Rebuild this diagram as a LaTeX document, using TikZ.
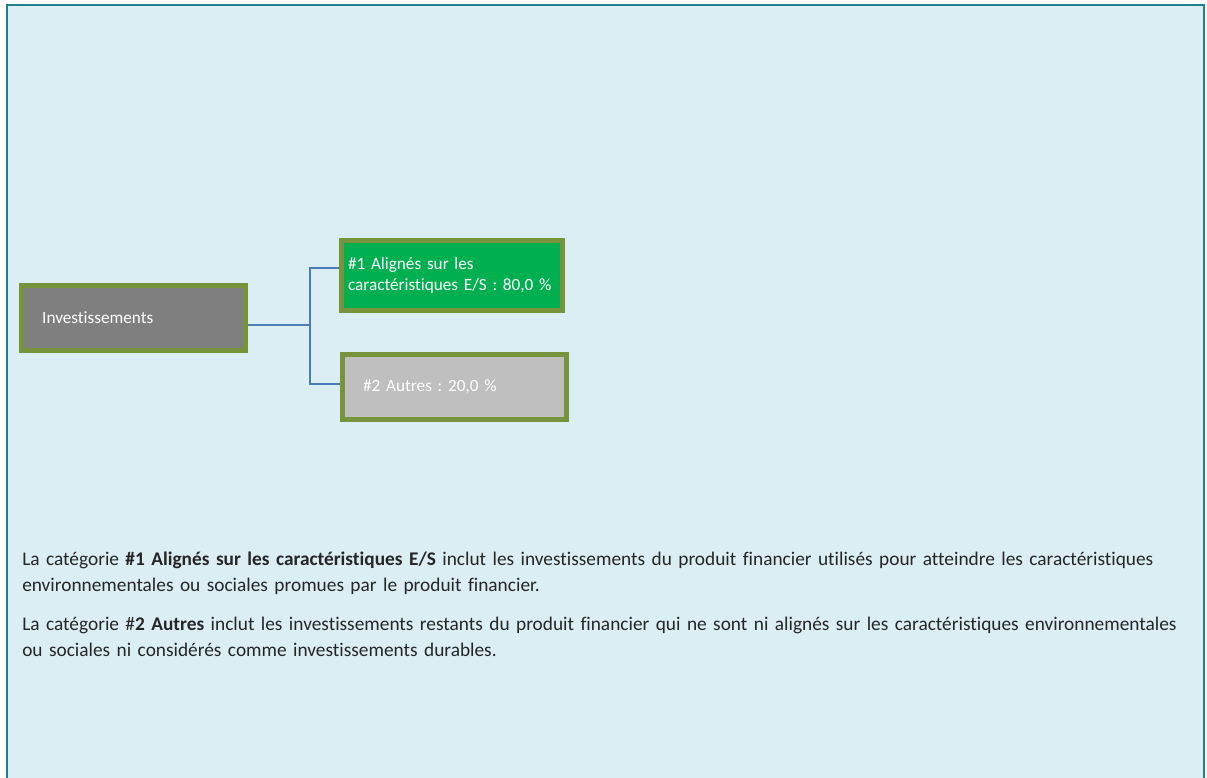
\documentclass[tikz,border=0pt]{standalone}
\usepackage{fontspec}
\setmainfont{Carlito}[RawFeature=-liga]
\frenchspacing

\definecolor{bgblue}{HTML}{DAEEF3}
\definecolor{frameteal}{HTML}{1F7F8C}
\definecolor{olive}{HTML}{77933C}
\definecolor{boxgray}{HTML}{7F7F7F}
\definecolor{esgreen}{HTML}{00B050}
\definecolor{lightgray}{HTML}{BFBFBF}
\definecolor{linkblue}{HTML}{4A7EBB}

\begin{document}
\begin{tikzpicture}[x=0.75pt, y=-0.75pt,
	box/.style={draw=olive, line width=3.75pt, align=left, text=white,
		font=\fontsize{12.9}{15.75}\selectfont},
	link/.style={linkblue, line width=1.4pt},
	para/.style={anchor=base west, align=left, inner sep=0pt, text=black!85,
		text width=892pt, font=\fontsize{14.5}{19.9}\selectfont}]
	
	% Background and frame
	\useasboundingbox (0,0) rectangle (1207,778);
	\fill[bgblue] (7,5) rectangle (1204,778);
	\draw[frameteal, line width=2pt] (7,778) -- (7,5) -- (1204,5) -- (1204,778);
	
	% Draw boxes
	\node[box, fill=boxgray, minimum width=168pt, minimum height=48.75pt,
		text width=137pt, inner xsep=15.5pt] (inv) at (133.5,318) {Investissements};
	\node[box, fill=esgreen, minimum width=165.75pt, minimum height=52.5pt,
		text width=156pt, inner xsep=4.9pt] (es) at (452,275.5)
		{\#1 Alignés sur les\\caractéristiques E/S : 80,0 \%};
	\node[box, fill=lightgray, minimum width=168pt, minimum height=48.75pt,
		text width=137pt, inner xsep=15.5pt] (oth) at (454.5,387) {\#2 Autres : 20,0 \%};
	
	% Draw connectors
	\coordinate (fork) at (310,325);
	\draw[link] ([yshift=-5.25pt]inv.east) -- (fork);
	\draw[link] (fork) |- ([yshift=5.6pt]es.west);
	\draw[link] (fork) |- ([yshift=2.25pt]oth.west);
	
	% Labels
	\node[para] (txtes) at (22,565) {La catégorie \textbf{\#1 Alignés sur les caractéristiques E/S} inclut les investissements du produit financier utilisés pour atteindre les caractéristiques\\
		environnementales ou sociales promues par le produit financier.};
	\node[para] (txtoth) at (22,630) {La catégorie \#\textbf{2 Autres} inclut les investissements restants du produit financier qui ne sont ni alignés sur les caractéristiques environnementales\\
		ou sociales ni considérés comme investissements durables.};
\end{tikzpicture}
\end{document}
